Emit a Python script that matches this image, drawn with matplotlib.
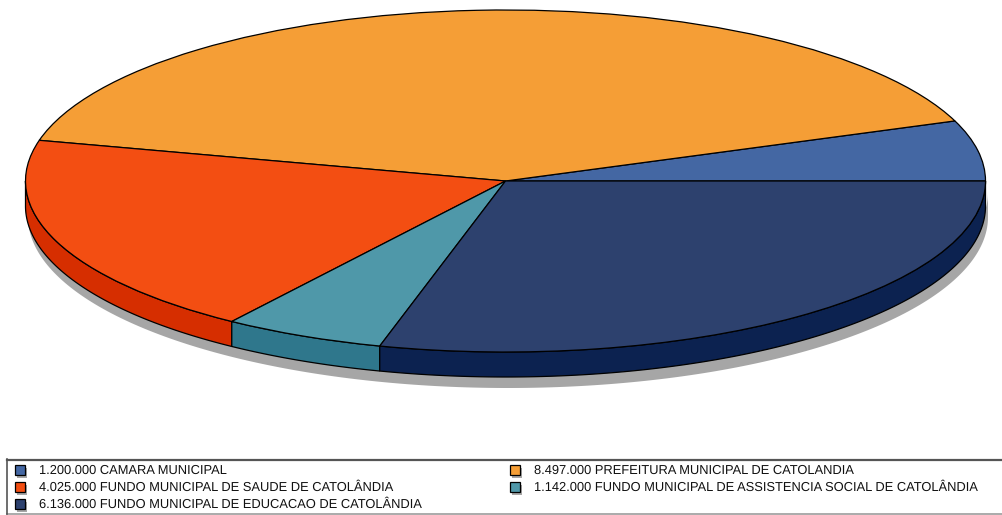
import numpy as np
import matplotlib
matplotlib.use("Agg")
import matplotlib.pyplot as plt
from matplotlib.patches import Polygon, Rectangle

values = [1200, 8497, 4025, 1142, 6136]
amounts = ["1.200.000", "8.497.000", "4.025.000", "1.142.000", "6.136.000"]
names = ["CAMARA MUNICIPAL", "PREFEITURA MUNICIPAL DE CATOLANDIA",
         "FUNDO MUNICIPAL DE SAUDE DE CATOLÂNDIA",
         "FUNDO MUNICIPAL DE ASSISTENCIA SOCIAL DE CATOLÂNDIA",
         "FUNDO MUNICIPAL DE EDUCACAO DE CATOLÂNDIA"]
top_colors = ["#4467A3", "#F59E36", "#F34E12", "#4F98A9", "#2D416E"]
side_colors = ["#2A4A85", "#D98A20", "#D62E00", "#2F778C", "#0C2250"]

W, H = 1003, 515
CX, CY, RX, RY, DEPTH = 505.5, 181, 480, 171, 25
plt.rcParams["font.family"] = ["Liberation Sans", "DejaVu Sans"]
plt.rcParams["text.hinting"] = "no_hinting"

fig = plt.figure(figsize=(W / 100, H / 100), dpi=100)
ax = fig.add_axes([0, 0, 1, 1])
ax.pie(values, colors=top_colors, startangle=0, counterclock=True, radius=1,
       wedgeprops=dict(edgecolor="black", linewidth=0.9, zorder=5))
ax.set_aspect("auto")
ax.set_xlim((0 - CX) / RX, (W - CX) / RX)
ax.set_ylim((CY - H) / RY, CY / RY)
ax.axis("off")

d = DEPTH / RY


def band(a0, a1, off_x=0.0, off_y=0.0):
    t = np.radians(np.linspace(a0, a1, 200))
    xs, ys = np.cos(t) + off_x, np.sin(t) + off_y
    return np.r_[np.c_[xs, ys], np.c_[xs[::-1], ys[::-1] - d]]


# drop shadow under the rim
ax.add_patch(Polygon(band(180, 360, 2.5 / RX, -11 / RY), closed=True,
                     facecolor="#A6A6A6", edgecolor="none", zorder=1))

# rim: only the front half of the disc is visible
edges = np.r_[0, np.cumsum(values)] / np.sum(values) * 360
for a0, a1, c in zip(edges[:-1], edges[1:], side_colors):
    lo, hi = max(a0, 180), min(a1, 360)
    if hi > lo:
        ax.add_patch(Polygon(band(lo, hi), closed=True, facecolor=c,
                             edgecolor="black", linewidth=0.9, zorder=3))

# legend, in figure pixels
lax = fig.add_axes([0, 0, 1, 1], facecolor="none")
lax.set_xlim(0, W)
lax.set_ylim(H, 0)
lax.axis("off")
lax.plot([7, 1003], [459.5, 459.5], color="#555555", lw=1.6)
lax.plot([7, 1003], [513.5, 513.5], color="#AAAAAA", lw=1.4)
lax.plot([7.5, 7.5], [459, 514], color="#555555", lw=1.2)

col_x = [15, 510]
row_y = [469, 486, 503]
for i, (amount, name, c) in enumerate(zip(amounts, names, top_colors)):
    x = col_x[i % 2]
    y = row_y[i // 2]
    lax.add_patch(Rectangle((x + 2, y - 1.5), 10, 10, facecolor="#A6A6A6", edgecolor="none"))
    lax.add_patch(Rectangle((x, y - 4), 10, 10, facecolor=c, edgecolor="black", linewidth=0.9))
    lax.text(x + 23.6, y, f"{amount} {name}", fontsize=9.3, color="#111111",
             va="center_baseline", ha="left")

fig.savefig("out.png", dpi=100)
